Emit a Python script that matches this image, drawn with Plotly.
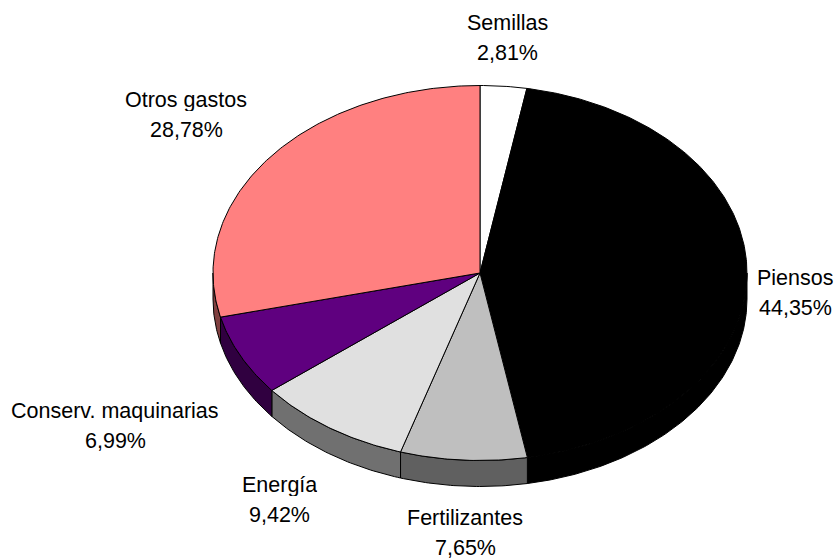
import numpy as np
import plotly.graph_objects as go

labels = ["Semillas", "Piensos", "Fertilizantes", "Energía", "Conserv. maquinarias", "Otros gastos"]
values = [2.81, 44.35, 7.65, 9.42, 6.99, 28.78]
value_text = ["2,81%", "44,35%", "7,65%", "9,42%", "6,99%", "28,78%"]
top_colors = ["#FFFFFF", "#000000", "#BFBFBF", "#E0E0E0", "#5F007F", "#FF8080"]
wall_colors = ["#808080", "#000000", "#606060", "#707070", "#300040", "#804040"]
label_x = [507, 795, 465, 279, 115, 186]
label_y = [23, 278, 517.5, 485, 411, 100]
line_gap = 30

CX, CY, RX, RY, DEPTH = 480.0, 273.0, 267.0, 187.5, 26.0
W, H = 836, 559


def rim(t0, t1, dy=0.0):
    n = max(2, int(abs(t1 - t0) * 1.5))
    t = np.radians(np.linspace(t0, t1, n))
    return CX + RX * np.sin(t), CY - RY * np.cos(t) + dy


fig = go.Figure()
edges = np.concatenate([[0], np.cumsum(values)]) / sum(values) * 360

# side walls (only the front half of the rim is visible)
for i in range(len(values)):
    a, b = max(edges[i], 90), min(edges[i + 1], 270)
    if b <= a:
        continue
    x1, y1 = rim(a, b)
    x2, y2 = rim(b, a, DEPTH)
    fig.add_trace(go.Scatter(
        x=np.r_[x1, x2, x1[0]], y=np.r_[y1, y2, y1[0]], mode="lines", fill="toself",
        fillcolor=wall_colors[i], line=dict(color="#000000", width=1),
        hoverinfo="skip", showlegend=False))

# top faces
for i in range(len(values)):
    x1, y1 = rim(edges[i], edges[i + 1])
    fig.add_trace(go.Scatter(
        x=np.r_[CX, x1, CX], y=np.r_[CY, y1, CY], mode="lines", fill="toself",
        fillcolor=top_colors[i], line=dict(color="#000000", width=1),
        name=labels[i], hoverinfo="name", showlegend=False))

font = dict(family="Liberation Sans, Arial, sans-serif", size=21.5, color="#000000")
for name, pct, x, y in zip(labels, value_text, label_x, label_y):
    for text, ty in ((name, y), (pct, y + line_gap)):
        fig.add_annotation(x=x, y=ty, text=text, showarrow=False, font=font, xanchor="center",
                           yanchor="middle", height=22, valign="middle", borderpad=0, borderwidth=0)

fig.update_layout(
    width=W, height=H, margin=dict(l=0, r=0, t=0, b=0), autosize=False,
    paper_bgcolor="#FFFFFF", plot_bgcolor="#FFFFFF", showlegend=False,
    xaxis=dict(range=[0, W], visible=False, fixedrange=True),
    yaxis=dict(range=[H, 0], visible=False, fixedrange=True),
)
fig.write_html("out.html", config={"displayModeBar": False},
               post_script="document.body.style.margin='0';document.body.style.overflow='hidden';")
